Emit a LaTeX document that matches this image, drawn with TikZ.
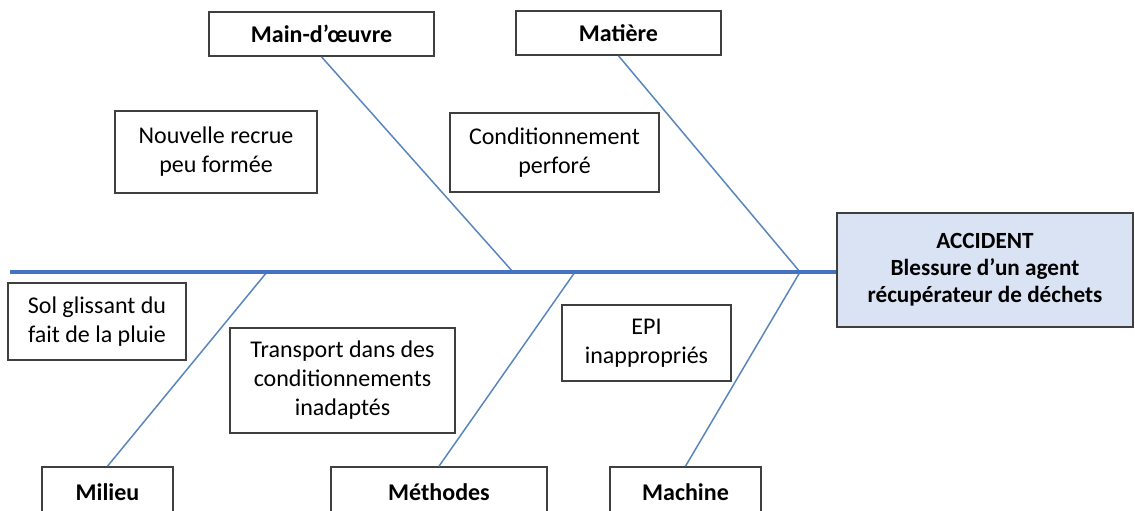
\documentclass[tikz,border=0pt]{standalone}
\usepackage{fontspec}
\setmainfont{Carlito}
\usepackage{xcolor}
\definecolor{spineblue}{HTML}{4472C4}
\definecolor{bonecol}{HTML}{5A86BE}
\definecolor{boxgray}{HTML}{3F3F3F}
\definecolor{accfill}{HTML}{DAE3F3}

\begin{document}
\begin{tikzpicture}[x=0.5pt,y=-0.5pt,
  cause/.style={draw=boxgray,line width=0.8pt,fill=white,align=center,
    inner sep=0pt,font=\fontsize{12}{14.5}\selectfont},
  family/.style={cause,font=\fontsize{12}{14.5}\selectfont\bfseries},
  bone/.style={draw=bonecol,line width=0.75pt}]
  % Ishikawa diagram: five families, five causes, one effect.

  \useasboundingbox (0,0) rectangle (1135,510);
  \clip (0,0) rectangle (1135,510);

  % effect
  \node[cause,fill=accfill,line width=1pt,font=\fontsize{11.6}{13.4}\selectfont\bfseries,
    minimum width=148pt,minimum height=57pt] (acc) at (985,270)
    {ACCIDENT\\Blessure d’un agent\\récupérateur de déchets};

  % families
  \node[family,minimum width=112.5pt,minimum height=22pt] (mo)   at (321.5,34)  {Main-d’œuvre};
  \node[family,minimum width=102.5pt,minimum height=22pt] (mat)  at (618.5,33)  {Matière};
  \node[family,minimum width=65.5pt,minimum height=25pt]  (mil)  at (107.5,492) {Milieu};
  \node[family,minimum width=108pt,minimum height=25pt]   (meth) at (439,492)   {Méthodes};
  \node[family,minimum width=75.5pt,minimum height=25pt]  (mach) at (685.5,492) {Machine};

  % causes
  \node[cause,minimum width=101pt,minimum height=41pt]    (nouv)  at (216,152)   {Nouvelle recrue\\peu formée};
  \node[cause,minimum width=104.5pt,minimum height=39.5pt](cond)  at (554.5,152.5) {Conditionnement\\perforé};
  \node[cause,minimum width=89pt,minimum height=38.5pt]   (sol)   at (97,321.5)  {Sol glissant du\\fait de la pluie};
  \node[cause,minimum width=112.5pt,minimum height=52.5pt](trans) at (342.5,380.5) {Transport dans des\\conditionnements\\inadaptés};
  \node[cause,minimum width=84.5pt,minimum height=38pt]   (epi)   at (646.5,343) {EPI\\inappropriés};

  % spine and joints
  \coordinate (tail) at (10,272);
  \coordinate (j0) at (267,272);
  \coordinate (j1) at (513,272);
  \coordinate (j2) at (575,272);
  \coordinate (j3) at (800,272);

  \draw[bone] (mo.south)   -- (j1);
  \draw[bone] (mat.south)  -- (j3);
  \draw[bone] (mil.north)  -- (j0);
  \draw[bone] (meth.north) -- (j2);
  \draw[bone] (mach.north) -- (j3);

  \draw[spineblue,line width=2pt] (tail) -- (tail -| acc.west);
\end{tikzpicture}
\end{document}
